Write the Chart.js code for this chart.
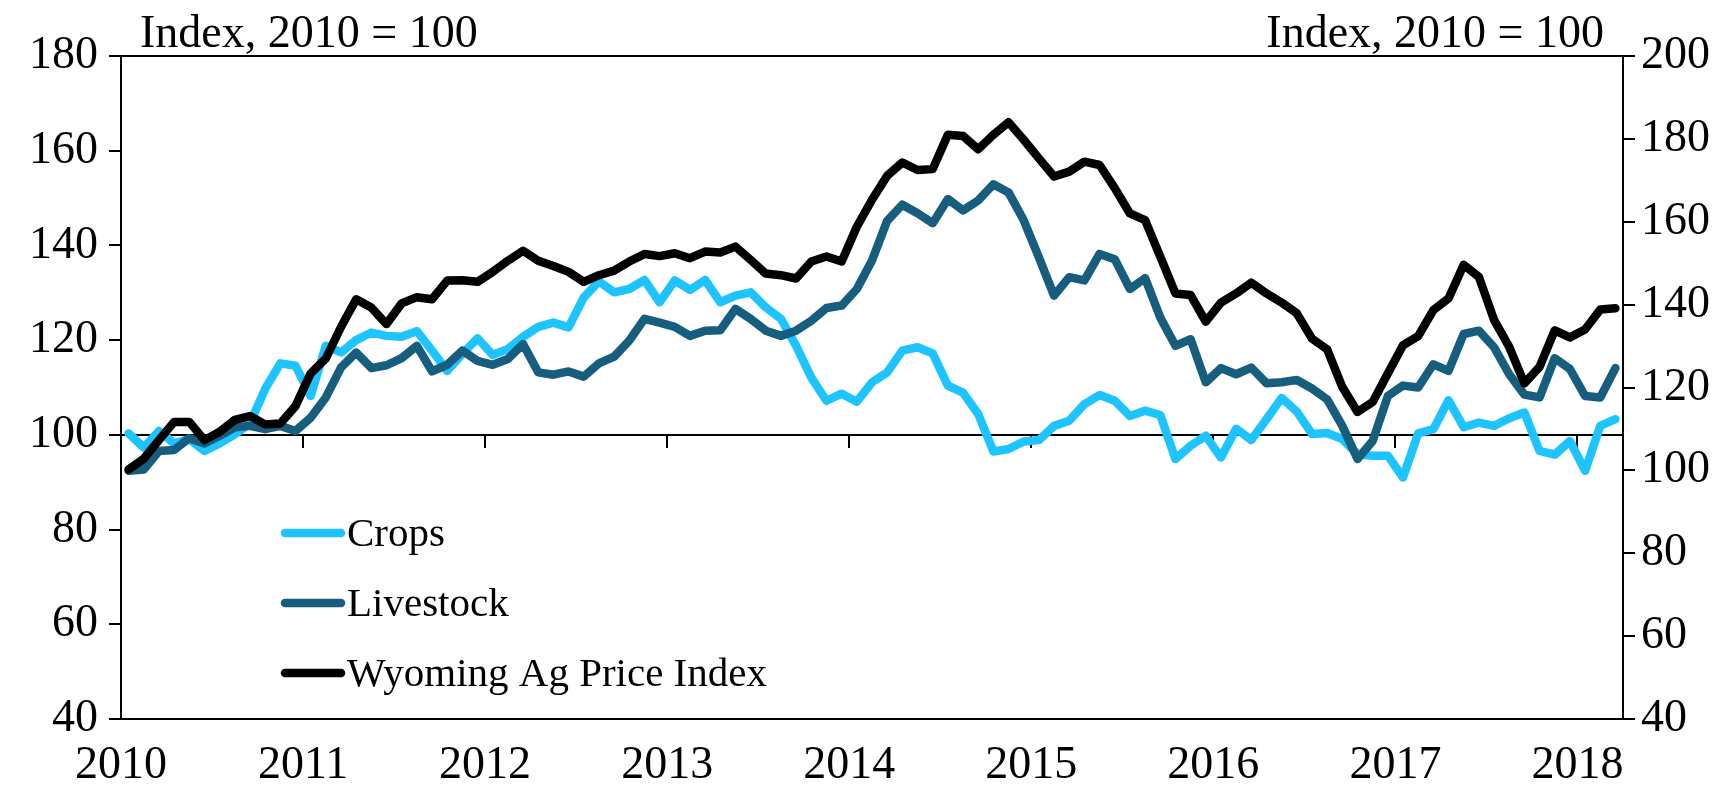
<!DOCTYPE html>
<html>
<head>
<meta charset="utf-8">
<script src="https://cdn.jsdelivr.net/npm/chart.js@4/dist/chart.umd.min.js"></script>
<style>
  html, body { margin: 0; padding: 0; background: #fff; }
  #wrap { width: 1735px; height: 792px; }
</style>
</head>
<body>
<div id="wrap"><canvas id="agPriceChart" width="1735" height="792"></canvas></div>
<script>
// monthly, Jan 2010 - Mar 2018
const yearLabels = ['2010', '2011', '2012', '2013', '2014', '2015', '2016', '2017', '2018']
const unitLabel = 'Index, 2010 = 100'

// left axis
const crops = [
    100.3, 97.3, 100.8, 98.2, 99.1, 96.6, 98.2, 100.1, 102.4, 109.7, 115.1, 114.6,
    108.2, 118.8, 117.4, 120.0, 121.6, 120.9, 120.7, 121.9, 117.8, 113.5, 117.1, 120.4,
    116.9, 118.1, 120.7, 122.8, 123.7, 122.7, 129.0, 132.4, 130.1, 130.8, 132.7, 128.0,
    132.6, 130.6, 132.7, 128.0, 129.4, 130.1, 126.9, 124.5, 118.8, 112.1, 107.2, 108.7,
    107.0, 111.1, 113.2, 117.8, 118.5, 117.2, 110.4, 108.9, 104.4, 96.5, 97.0, 98.6,
    98.9, 101.9, 103.0, 106.5, 108.4, 107.2, 104.0, 105.1, 104.2, 94.9, 97.7, 99.8,
    95.2, 101.3, 98.9, 103.3, 107.8, 104.9, 100.2, 100.4, 99.1, 95.9, 95.6, 95.6,
    91.0, 100.3, 101.2, 107.3, 101.6, 102.6, 101.9, 103.5, 104.7, 96.6, 95.8, 98.7,
    92.4, 101.9, 103.3
]
const livestock = [
    92.4, 92.7, 96.6, 96.8, 99.3, 98.2, 99.8, 101.6, 101.9, 101.2, 101.9, 100.8,
    103.6, 107.9, 114.2, 117.4, 114.1, 114.7, 116.2, 118.8, 113.4, 114.8, 117.8, 115.6,
    114.8, 116.0, 119.2, 113.2, 112.7, 113.4, 112.3, 115.1, 116.5, 119.9, 124.5, 123.7,
    122.8, 120.9, 122.0, 122.1, 126.6, 124.5, 122.0, 120.9, 122.0, 124.1, 126.8, 127.3,
    130.8, 136.8, 145.2, 148.6, 146.8, 144.7, 149.8, 147.4, 149.5, 152.9, 151.2, 145.3,
    137.5, 129.4, 133.3, 132.6, 138.2, 137.1, 130.8, 133.1, 124.8, 118.8, 120.2, 111.1,
    114.1, 112.8, 114.2, 110.9, 111.1, 111.6, 109.8, 107.5, 101.9, 94.9, 98.7, 108.2,
    110.4, 110.0, 114.9, 113.5, 121.3, 122.0, 118.5, 112.8, 108.5, 107.9, 116.2, 113.9,
    108.2, 107.9, 114.1
]
// right axis
const wyomingIndex = [
    100.2, 102.8, 107.3, 111.7, 111.7, 107.3, 109.3, 112.2, 113.1, 111.1, 111.3, 115.5,
    123.4, 127.0, 134.6, 141.3, 139.3, 135.3, 140.3, 141.8, 141.3, 145.8, 145.9, 145.5,
    147.9, 150.6, 153.0, 150.6, 149.3, 147.9, 145.5, 147.1, 148.2, 150.4, 152.2, 151.7,
    152.4, 151.2, 152.8, 152.6, 154.0, 150.8, 147.5, 147.1, 146.3, 150.4, 151.6, 150.4,
    158.8, 165.3, 171.1, 174.3, 172.5, 172.7, 181.0, 180.7, 177.5, 181.0, 184.0, 179.8,
    175.3, 170.9, 172.1, 174.5, 173.7, 168.1, 162.0, 160.4, 151.6, 142.7, 142.3, 135.9,
    140.5, 142.7, 145.3, 142.7, 140.5, 137.9, 131.8, 129.2, 120.1, 114.1, 116.5, 123.4,
    130.2, 132.4, 138.7, 141.5, 149.6, 146.7, 136.3, 129.8, 121.0, 125.0, 133.8, 132.1,
    134.0, 138.8, 139.1
]

const FONT = { family: 'Liberation Serif', size: 46 }
const LEGEND_FONT = { family: 'Liberation Serif', size: 41 }
const LINE_W = 8.5
const nMonths = crops.length

// month i sits in the middle of its slot on the x axis
const toPoints = (arr) => arr.map((v, i) => ({ x: i + 0.5, y: v }))

const yearTick = (value) => yearLabels[value / 12]

const unitTitles = {
    id: 'unitTitles',
    afterDraw(chart) {
        const { ctx, chartArea } = chart
        ctx.save()
        ctx.font = `${FONT.size}px ${FONT.family}`
        ctx.fillStyle = '#000'
        ctx.textBaseline = 'alphabetic'
        ctx.textAlign = 'left'
        ctx.fillText(unitLabel, chartArea.left + 19, chartArea.top - 9)
        ctx.textAlign = 'right'
        ctx.fillText(unitLabel, chartArea.right - 19, chartArea.top - 9)
        ctx.restore()
    },
}

// legend drawn inside the plot, lower left
const insideLegend = {
    id: 'insideLegend',
    afterDraw(chart) {
        const { ctx, chartArea } = chart
        const x0 = chartArea.left + 164
        const rowTop = chartArea.top + 477
        const rowGap = 70
        ctx.save()
        ctx.font = `${LEGEND_FONT.size}px ${LEGEND_FONT.family}`
        ctx.textBaseline = 'middle'
        ctx.textAlign = 'left'
        chart.data.datasets.forEach((ds, k) => {
            const y = rowTop + k * rowGap
            ctx.strokeStyle = ds.borderColor
            ctx.lineWidth = ds.borderWidth
            ctx.lineCap = 'round'
            ctx.beginPath()
            ctx.moveTo(x0, y)
            ctx.lineTo(x0 + 56, y)
            ctx.stroke()
            ctx.fillStyle = '#000'
            ctx.fillText(ds.label, x0 + 62, y + 2)
        })
        ctx.restore()
    },
}

const axisLine = { display: true, color: '#000', width: 2 }

new Chart(document.getElementById('agPriceChart'), {
    type: 'line',
    data: {
        datasets: [
            {
                label: 'Crops',
                data: toPoints(crops),
                borderColor: '#1dc4ff',
                borderWidth: LINE_W,
                yAxisID: 'y',
                order: 3,
            },
            {
                label: 'Livestock',
                data: toPoints(livestock),
                borderColor: '#175e7e',
                borderWidth: LINE_W,
                yAxisID: 'y',
                order: 2,
            },
            {
                label: 'Wyoming Ag Price Index',
                data: toPoints(wyomingIndex),
                borderColor: '#000000',
                borderWidth: LINE_W,
                yAxisID: 'y1',
                order: 1,
            },
        ],
    },
    options: {
        responsive: false,
        animation: false,
        layout: { padding: 0 },
        elements: {
            point: { radius: 0 },
            line: { tension: 0, borderJoinStyle: 'round', borderCapStyle: 'round' },
        },
        plugins: {
            legend: { display: false },
            tooltip: { enabled: false },
        },
        scales: {
            x: {
                type: 'linear',
                position: 'bottom',
                min: 0,
                max: nMonths,
                afterFit: (s) => { s.height = 73 },
                ticks: {
                    stepSize: 12,
                    includeBounds: false,
                    autoSkip: false,
                    maxRotation: 0,
                    padding: 19,
                    color: '#000',
                    font: FONT,
                    callback: yearTick,
                },
                grid: { drawOnChartArea: false, drawTicks: false },
                border: axisLine,
            },
            // axis line at 100 with the year tick marks
            xMid: {
                type: 'linear',
                position: { y: 100 },
                min: 0,
                max: nMonths,
                ticks: { display: false, stepSize: 12, includeBounds: false },
                grid: { drawOnChartArea: false, drawTicks: true, tickLength: 12, color: '#000', lineWidth: 2 },
                border: axisLine,
            },
            xTop: {
                type: 'linear',
                position: 'top',
                min: 0,
                max: nMonths,
                afterFit: (s) => { s.height = 56 },
                ticks: { display: false },
                grid: { drawOnChartArea: false, drawTicks: false },
                border: axisLine,
            },
            y: {
                position: 'left',
                min: 40,
                max: 180,
                afterFit: (s) => { s.width = 121 },
                ticks: { stepSize: 20, padding: 11, color: '#000', font: FONT },
                grid: { drawOnChartArea: false, tickLength: 12, color: '#000', lineWidth: 2 },
                border: axisLine,
            },
            y1: {
                position: 'right',
                min: 40,
                max: 200,
                afterFit: (s) => { s.width = 112 },
                ticks: { stepSize: 20, padding: 6, color: '#000', font: FONT },
                grid: { drawOnChartArea: false, tickLength: 12, color: '#000', lineWidth: 2 },
                border: axisLine,
            },
        },
    },
    plugins: [unitTitles, insideLegend],
})
</script>
</body>
</html>
